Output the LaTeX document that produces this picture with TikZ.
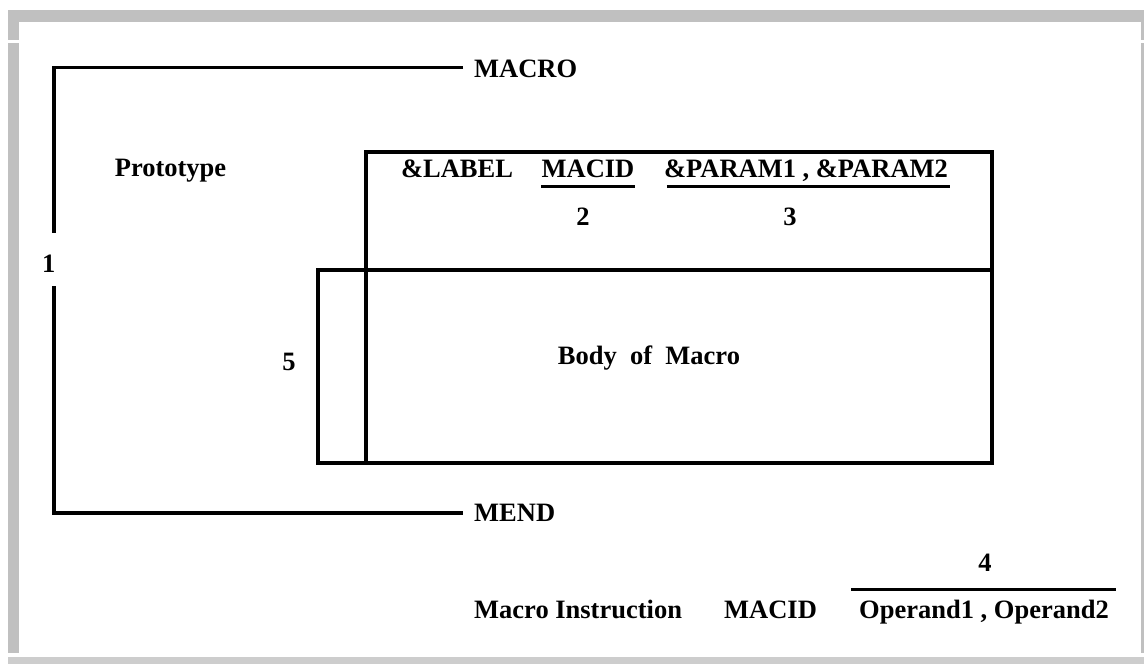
\documentclass[tikz,border=0pt]{standalone}
\usepackage{fontspec}
\setmainfont{Liberation Serif}
\definecolor{frame}{RGB}{192,192,192}
\definecolor{framelight}{RGB}{205,205,205}
\begin{document}
\begin{tikzpicture}[x=1pt,y=-1pt,
  lbl/.style={font=\fontsize{26.5}{30}\selectfont\bfseries, inner sep=0pt, anchor=base},
  heavy/.style={line width=3.7pt, line join=miter},
  rule/.style={line width=2.8pt}]
\useasboundingbox (0,0) rectangle (1144,664);
\fill[white] (0,0) rectangle (1144,664);
% grey page frame
\fill[frame] (8,10) rectangle (1144,22);
\fill[frame] (8,22) rectangle (19,40);
\fill[frame] (8,43) rectangle (19,653);
\fill[frame] (1141,22) rectangle (1144,40);
\fill[frame] (1141,43) rectangle (1144,653);
\fill[framelight] (8,657) rectangle (1144,664);
% bracket MACRO ... MEND
\coordinate (tr) at (463,67.5);
\coordinate (tl) at (54,67.5);
\coordinate (g1) at (54,233);
\coordinate (g2) at (54,286);
\coordinate (bl) at (54,513);
\coordinate (br) at (463,513);
\draw[heavy] (tr) -- (tl) -- (g1);
\draw[heavy] (g2) -- (bl) -- (br);
\node[lbl, anchor=base west] (macro) at (474,77.7) {MACRO};
\node[lbl, anchor=base west] (mend) at (474,521.5) {MEND};
\node[lbl] (one) at (48.7,272) {1};
% boxes
\coordinate (ua) at (366,152);
\coordinate (ub) at (992,152);
\coordinate (ma) at (318,270);
\coordinate (mb) at (992,270);
\coordinate (la) at (318,463);
\coordinate (lb) at (992,463);
\coordinate (lc) at (366,463);
\draw[heavy] (lc) -- (ua) -- (ub) -- (lb) -- (la) -- (ma) -- (mb);
% texts
\node[lbl] (proto) at (170.5,176.7) {Prototype};
\node[lbl] (label) at (457,177.7) {\&LABEL};
\node[lbl] (macid) at (588,177.7) {MACID};
\node[lbl] (params) at (806,177.7) {\&PARAM1 , \&PARAM2};
\draw[rule] ([yshift=-8.5pt]macid.base west) -- ([yshift=-8.5pt]macid.base east);
\draw[rule] ([xshift=3pt,yshift=-8.5pt]params.base west) -- ([xshift=2pt,yshift=-8.5pt]params.base east);
\node[lbl] (two) at (583,225) {2};
\node[lbl] (three) at (790,225) {3};
\node[lbl] (five) at (289,370.7) {5};
\node[lbl] (body) at (649,364) {Body\ \ of\ \ Macro};
% macro instruction
\node[lbl] (four) at (985,571) {4};
\node[lbl, anchor=base west] (mi) at (474,618) {Macro Instruction};
\node[lbl, anchor=base west] (mid) at (724,618) {MACID};
\node[lbl, anchor=base west] (ops) at (859,618) {Operand1 , Operand2};
\draw[line width=3pt] ([xshift=-8pt,yshift=29pt]ops.base west) -- ([xshift=7pt,yshift=29pt]ops.base east);
\end{tikzpicture}
\end{document}
